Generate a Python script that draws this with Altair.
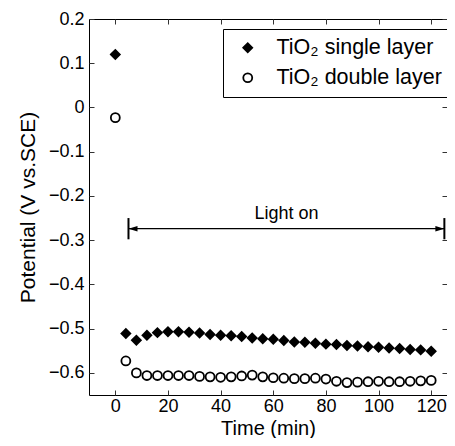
import altair as alt
import pandas as pd

FONT = "Liberation Sans"

# ---- data ----
times = [0, 4, 8, 12, 16, 20, 24, 28, 32, 36, 40, 44, 48, 52, 56, 60,
         64, 68, 72, 76, 80, 84, 88, 92, 96, 100, 104, 108, 112, 116, 120]
single_layer = [0.120, -0.511, -0.526, -0.515, -0.509, -0.507, -0.507, -0.508,
                -0.510, -0.513, -0.515, -0.516, -0.518, -0.521, -0.523, -0.524,
                -0.527, -0.530, -0.531, -0.533, -0.535, -0.536, -0.538, -0.539,
                -0.541, -0.542, -0.544, -0.545, -0.547, -0.548, -0.551]
double_layer = [-0.023, -0.573, -0.600, -0.606, -0.606, -0.606, -0.606, -0.606,
                -0.608, -0.609, -0.610, -0.609, -0.607, -0.605, -0.609, -0.611,
                -0.612, -0.613, -0.613, -0.612, -0.614, -0.619, -0.622, -0.621,
                -0.620, -0.619, -0.620, -0.620, -0.619, -0.618, -0.617]
series_names = ["TiO\u2082 single layer", "TiO\u2082 double layer"]
x_ticks = [0, 20, 40, 60, 80, 100, 120]
y_ticks = [0.2, 0.1, 0.0, -0.1, -0.2, -0.3, -0.4, -0.5, -0.6]
x_domain = [-10, 126]
y_domain = [-0.65, 0.2]
light_start = 5
light_end = 125
light_level = -0.274
light_bar_half = 0.024
light_label = "Light on"

rows = []
for t, a, b in zip(times, single_layer, double_layer):
    rows.append({"t": t, "v": a, "series": series_names[0]})
    rows.append({"t": t, "v": b, "series": series_names[1]})
df = pd.DataFrame(rows)

arrow_df = pd.DataFrame({"x1": [light_start], "x2": [light_end], "y": [light_level],
                         "mid": [(light_start + light_end) / 2], "label": [light_label]})
bars_df = pd.DataFrame({"x": [light_start, light_end],
                        "y1": [light_level - light_bar_half] * 2,
                        "y2": [light_level + light_bar_half] * 2})

x_scale = alt.Scale(domain=x_domain, nice=False, zero=False)
y_scale = alt.Scale(domain=y_domain, nice=False, zero=False)

TICK = "#333333"

legend_props = dict(title=None, orient="none", legendX=134, legendY=10,
                    strokeColor="black", fillColor="white", padding=8,
                    symbolOffset=6, labelOffset=18, rowPadding=7, labelLimit=400,
                    labelFontSize=21.5, labelFont=FONT, labelColor="black",
                    symbolSize=80, symbolStrokeWidth=1.8)

points = alt.Chart(df).mark_point(opacity=1, size=80, strokeWidth=1.8).encode(
    x=alt.X("t:Q", scale=x_scale,
            axis=alt.Axis(orient="bottom", values=x_ticks, offset=-5, tickSize=5,
                          domain=False, grid=False, labelPadding=2, tickColor=TICK,
                          labelFontSize=18, labelFont=FONT, labelColor="black",
                          title="Time (min)", titleFontSize=20, titleFont=FONT,
                          titleFontWeight="normal", titleColor="black", titlePadding=3)),
    y=alt.Y("v:Q", scale=y_scale,
            axis=alt.Axis(orient="left", values=y_ticks, offset=-5, tickSize=5,
                          domain=False, grid=False, labelPadding=5, tickColor=TICK,
                          labelExpr="datum.value == 0 ? '0' : format(datum.value, '.1f')",
                          labelFontSize=18, labelFont=FONT, labelColor="black",
                          title="Potential (V vs.SCE)", titleFontSize=21, titleFont=FONT,
                          titleFontWeight="normal", titleColor="black", titlePadding=10)),
    shape=alt.Shape("series:N", scale=alt.Scale(domain=series_names, range=["diamond", "circle"]),
                    legend=alt.Legend(**legend_props)),
    fill=alt.Fill("series:N", scale=alt.Scale(domain=series_names, range=["black", "white"]),
                  legend=alt.Legend(**legend_props)),
    stroke=alt.Stroke("series:N", scale=alt.Scale(domain=series_names, range=["black", "black"]),
                      legend=alt.Legend(**legend_props)),
)

arrow_line = alt.Chart(arrow_df).mark_rule(color="black", strokeWidth=1.2).encode(
    x=alt.X("x1:Q", scale=x_scale,
            axis=alt.Axis(orient="top", values=x_ticks, offset=-5, tickSize=5, domain=False,
                          grid=False, labels=False, title=None, tickColor=TICK)),
    x2="x2:Q",
    y=alt.Y("y:Q", scale=y_scale,
            axis=alt.Axis(orient="right", values=y_ticks, offset=-5, tickSize=5, domain=False,
                          grid=False, labels=False, title=None, tickColor=TICK)),
)

end_bars = alt.Chart(bars_df).mark_rule(color="black", strokeWidth=2).encode(
    x=alt.X("x:Q", scale=x_scale, axis=None),
    y=alt.Y("y1:Q", scale=y_scale, axis=None), y2="y2:Q")

head_left = alt.Chart(arrow_df).mark_point(
    shape="M -1 0 L 1 -0.6 L 1 0.6 Z", size=81, filled=True, color="black",
    opacity=1, xOffset=4.5).encode(
    x=alt.X("x1:Q", scale=x_scale, axis=None), y=alt.Y("y:Q", scale=y_scale, axis=None))
head_right = alt.Chart(arrow_df).mark_point(
    shape="M 1 0 L -1 -0.6 L -1 0.6 Z", size=81, filled=True, color="black",
    opacity=1, xOffset=-4.5).encode(
    x=alt.X("x2:Q", scale=x_scale, axis=None), y=alt.Y("y:Q", scale=y_scale, axis=None))

label = alt.Chart(arrow_df).mark_text(font=FONT, fontSize=18, color="black",
                                      baseline="alphabetic", align="center", dy=-10).encode(
    x=alt.X("mid:Q", scale=x_scale, axis=None), y=alt.Y("y:Q", scale=y_scale, axis=None),
    text="label:N")

chart = alt.layer(points, arrow_line, end_bars, head_left, head_right, label).resolve_axis(
    x="independent", y="independent"
).properties(
    width=358, height=376,
    autosize=alt.AutoSizeParams(type="none"),
    padding={"left": 81, "top": 11, "right": 0, "bottom": 43},
    background="white",
).configure_view(stroke="black", strokeWidth=1)

chart.save("out.html", embed_options={"renderer": "svg", "actions": False})
